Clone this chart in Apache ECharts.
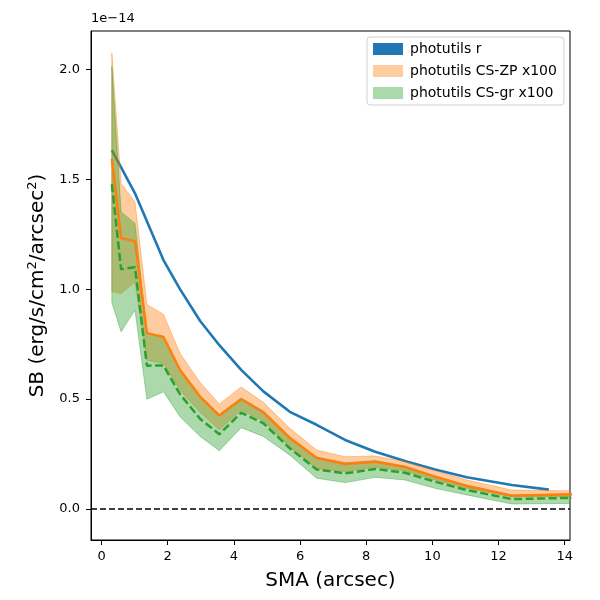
<!DOCTYPE html>
<html>
<head>
<meta charset="utf-8">
<script src="https://cdn.jsdelivr.net/npm/echarts@6/dist/echarts.min.js"></script>
<style>
  html, body { margin: 0; padding: 0; background: #fff; }
  #chart { width: 600px; height: 600px; }
</style>
</head>
<body>
<div id="chart"></div>
<script>
// values in units of 1e-14 erg/s/cm2/arcsec2
const sma = [0.31, 0.59, 1.01, 1.37, 1.87, 2.37, 2.98, 3.56, 4.22, 4.89, 5.69, 6.50, 7.36, 8.27, 9.17, 10.08, 11.04, 12.40, 13.93, 15.60];

const rSma = [0.31, 0.59, 1.01, 1.37, 1.87, 2.37, 2.98, 3.56, 4.22, 4.89, 5.69, 6.50, 7.36, 8.27, 9.17, 10.08, 11.04, 12.40, 13.52];
const rSB = [1.632, 1.554, 1.436, 1.309, 1.132, 1.0, 0.855, 0.745, 0.633, 0.535, 0.442, 0.383, 0.314, 0.26, 0.218, 0.18, 0.144, 0.109, 0.088];

const zpSB = [1.594, 1.232, 1.218, 0.80, 0.782, 0.632, 0.51, 0.425, 0.499, 0.44, 0.323, 0.232, 0.205, 0.215, 0.191, 0.147, 0.105, 0.060, 0.066, 0.070];
const zpUpper = [2.074, 1.48, 1.397, 0.93, 0.886, 0.708, 0.575, 0.478, 0.555, 0.485, 0.367, 0.268, 0.238, 0.241, 0.215, 0.174, 0.132, 0.086, 0.083, 0.084];
const zpLower = [0.988, 0.98, 1.033, 0.677, 0.662, 0.54, 0.44, 0.36, 0.45, 0.40, 0.28, 0.185, 0.17, 0.19, 0.174, 0.132, 0.094, 0.056, 0.056, 0.058];

const grSB = [1.477, 1.09, 1.10, 0.652, 0.653, 0.522, 0.41, 0.34, 0.438, 0.39, 0.276, 0.18, 0.162, 0.182, 0.165, 0.124, 0.086, 0.045, 0.050, 0.053];
const grUpper = [2.014, 1.351, 1.299, 0.80, 0.785, 0.635, 0.515, 0.43, 0.505, 0.445, 0.328, 0.236, 0.21, 0.22, 0.195, 0.15, 0.108, 0.064, 0.068, 0.072];
const grLower = [0.94, 0.806, 0.905, 0.499, 0.533, 0.42, 0.33, 0.265, 0.37, 0.33, 0.245, 0.14, 0.12, 0.144, 0.132, 0.094, 0.064, 0.023, 0.025, 0.026];

const xTicks = [0, 2, 4, 6, 8, 10, 12, 14];
const yTicks = [0, 0.5, 1.0, 1.5, 2.0];

const FONT = 'DejaVu Sans';
const BLUE = '#1f77b4';
const ORANGE = '#ff7f0e';
const GREEN = '#2ca02c';
const ORANGE_FILL = 'rgba(255,127,14,0.4)';
const GREEN_FILL = 'rgba(44,160,44,0.4)';

function pairs(xs, ys) {
  return xs.map((x, i) => [x, ys[i]]);
}

// filled band between lower and upper, drawn as one polygon through the axes
function bandSeries(name, upper, lower, color, z) {
  return {
    name: name,
    type: 'custom',
    coordinateSystem: 'cartesian2d',
    clip: true,
    z: z,
    data: [[sma[0], lower[0]]],
    itemStyle: { color: color },
    renderItem: function (params, api) {
      const pts = [];
      for (let i = 0; i < sma.length; i++) pts.push(api.coord([sma[i], upper[i]]));
      for (let i = sma.length - 1; i >= 0; i--) pts.push(api.coord([sma[i], lower[i]]));
      return {
        type: 'polygon',
        shape: { points: pts },
        style: { fill: color, stroke: color, lineWidth: 1 }
      };
    }
  };
}

const chart = echarts.init(document.getElementById('chart'));

var option = {
  animation: false,
  textStyle: { fontFamily: FONT },
  grid: {
    left: 91,
    right: 30,
    top: 31,
    bottom: 60,
    show: true,
    borderColor: '#000',
    borderWidth: 1,
    backgroundColor: 'transparent'
  },
  legend: {
    left: 367,
    top: 37,
    orient: 'vertical',
    padding: [5, 7, 5, 6],
    itemGap: 8,
    itemWidth: 30,
    itemHeight: 12,
    borderColor: '#d0d0d0',
    borderWidth: 1,
    borderRadius: 3,
    backgroundColor: 'rgba(255,255,255,0.8)',
    textStyle: { fontFamily: FONT, fontSize: 14, color: '#000', padding: [0, 0, 0, 2] },
    data: [
      { name: 'photutils r', icon: 'rect', itemStyle: { color: BLUE } },
      { name: 'photutils CS-ZP x100', icon: 'rect', itemStyle: { color: ORANGE_FILL } },
      { name: 'photutils CS-gr x100', icon: 'rect', itemStyle: { color: GREEN_FILL } }
    ]
  },
  graphic: [{
    type: 'text',
    left: 91,
    top: 12,
    style: { text: '1e\u221214', fontFamily: FONT, fontSize: 13, fill: '#000' }
  }],
  xAxis: {
    type: 'value',
    min: -0.32,
    max: 14.16,
    name: 'SMA (arcsec)',
    nameLocation: 'middle',
    nameGap: 31,
    nameTextStyle: { fontFamily: FONT, fontSize: 20, color: '#000' },
    axisLine: { onZero: false, lineStyle: { color: '#000', width: 1 } },
    axisTick: { show: true, length: 5, lineStyle: { color: '#000' }, customValues: xTicks },
    axisLabel: { fontFamily: FONT, fontSize: 13, color: '#000', margin: 10, customValues: xTicks },
    splitLine: { show: false }
  },
  yAxis: {
    type: 'value',
    min: -0.141,
    max: 2.174,
    name: '{a|SB (erg/s/cm}{s|2}{a|/arcsec}{s|2}{a|)}',
    nameLocation: 'middle',
    nameRotate: 90,
    nameGap: 42,
    nameTextStyle: {
      fontFamily: FONT,
      fontSize: 20,
      color: '#000',
      rich: {
        a: { fontFamily: FONT, fontSize: 20, color: '#000' },
        s: { fontFamily: FONT, fontSize: 13, color: '#000', padding: [0, 0, 10, 0] }
      }
    },
    axisLine: { show: true, onZero: false, lineStyle: { color: '#000', width: 1 } },
    axisTick: { show: true, length: 5, lineStyle: { color: '#000' }, customValues: yTicks },
    axisLabel: {
      fontFamily: FONT, fontSize: 13, color: '#000', margin: 11,
      customValues: yTicks,
      formatter: v => v.toFixed(1)
    },
    splitLine: { show: false }
  },
  series: [
    {
      name: 'photutils r',
      type: 'line',
      data: pairs(rSma, rSB),
      showSymbol: false,
      lineStyle: { color: BLUE, width: 2.6 },
      itemStyle: { color: BLUE },
      z: 2,
      markLine: {
        silent: true,
        symbol: 'none',
        label: { show: false },
        lineStyle: { color: '#000', width: 1.6, type: [6, 3] },
        data: [{ yAxis: 0 }]
      }
    },
    bandSeries('photutils CS-ZP x100', zpUpper, zpLower, ORANGE_FILL, 3),
    bandSeries('photutils CS-gr x100', grUpper, grLower, GREEN_FILL, 4),
    {
      name: 'zp-mean',
      type: 'line',
      data: pairs(sma, zpSB),
      showSymbol: false,
      lineStyle: { color: ORANGE, width: 2.5 },
      z: 5
    },
    {
      name: 'gr-mean',
      type: 'line',
      data: pairs(sma, grSB),
      showSymbol: false,
      lineStyle: { color: GREEN, width: 2.5, type: [8, 3.5] },
      z: 6
    }
  ]
};

chart.setOption(option);
</script>
</body>
</html>
